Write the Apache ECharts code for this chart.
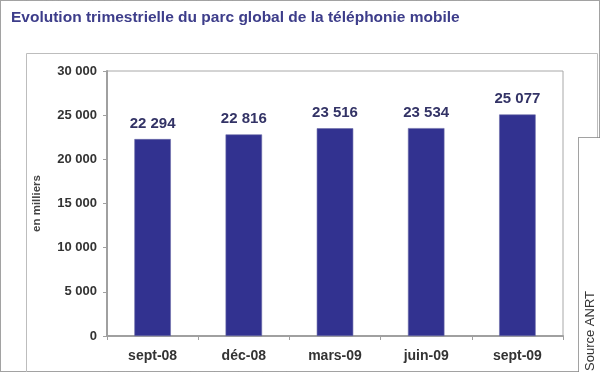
<!DOCTYPE html>
<html>
<head>
<meta charset="utf-8">
<script src="https://cdn.jsdelivr.net/npm/echarts@6/dist/echarts.min.js"></script>
<style>html,body{margin:0;padding:0;background:#fff;}#c{width:600px;height:372px;}</style>
</head>
<body>
<div id="c"></div>
<script>
var categories = ['sept-08', 'déc-08', 'mars-09', 'juin-09', 'sept-09'];
var values = [22294, 22816, 23516, 23534, 25077];
var yTicks = [0, 5000, 10000, 15000, 20000, 25000, 30000];

function fmt(v) { return String(v).replace(/\B(?=(\d{3})+(?!\d))/g, ' '); }

var chart = echarts.init(document.getElementById('c'));
chart.setOption({
  backgroundColor: '#fff',
  animation: false,
  title: {
    text: 'Evolution trimestrielle du parc global de la téléphonie mobile',
    left: 6, top: 5,
    textStyle: { fontFamily: 'Liberation Sans, Arial', fontSize: 15.5, fontWeight: 'bold', color: '#3d3d8a' }
  },
  grid: { left: 107, right: 37, top: 71, bottom: 36, show: true, borderColor: '#a8a8a8', borderWidth: 1, backgroundColor: 'transparent' },
  xAxis: {
    type: 'category', data: categories,
    axisLine: { lineStyle: { color: '#a0a0a0', width: 2 } },
    axisTick: { show: true, length: 4, lineStyle: { color: '#a0a0a0' } },
    axisLabel: { margin: 13, fontFamily: 'Liberation Sans, Arial', fontSize: 14, fontWeight: 'bold', color: '#333' }
  },
  yAxis: {
    type: 'value', min: yTicks[0], max: yTicks[yTicks.length - 1], interval: 5000,
    name: 'en milliers', nameLocation: 'middle', nameRotate: 90, nameGap: 64,
    nameTextStyle: { fontFamily: 'Liberation Sans, Arial', fontSize: 11.5, fontWeight: 'bold', color: '#444' },
    axisLine: { show: true, lineStyle: { color: '#a0a0a0', width: 2 } },
    axisTick: { show: true, length: 4, lineStyle: { color: '#a0a0a0' } },
    splitLine: { show: false },
    axisLabel: { margin: 10, formatter: function (v) { return fmt(v); }, fontFamily: 'Liberation Sans, Arial', fontSize: 13, fontWeight: 'bold', color: '#333' }
  },
  series: [{
    type: 'bar', data: values, barWidth: '40%',
    itemStyle: { color: '#323290', borderColor: '#6a6aa8', borderWidth: 0.6 },
    label: { show: true, position: 'top', distance: 8, formatter: function (p) { return fmt(p.value); },
      fontFamily: 'Liberation Sans, Arial', fontSize: 15, fontWeight: 'bold', color: '#333366' }
  }],
  graphic: [
    { type: 'rect', shape: { x: 0.5, y: 0.5, width: 599, height: 371 }, style: { fill: 'none', stroke: '#444', lineWidth: 1, lineDash: [1, 1] }, silent: true },
    { type: 'rect', shape: { x: 26.5, y: 53.5, width: 571, height: 330 }, style: { fill: 'none', stroke: '#bdbdbd', lineWidth: 1 }, silent: true },
    { type: 'rect', shape: { x: 578.5, y: 137.5, width: 22, height: 240 }, style: { fill: '#fff', stroke: '#444', lineWidth: 1, lineDash: [1, 1] }, silent: true },
    { type: 'text', x: 590, y: 331, rotation: Math.PI / 2,
      style: { text: 'Source ANRT', textAlign: 'center', textVerticalAlign: 'middle', font: '13px "Liberation Sans", Arial', fill: '#333' }, silent: true }
  ]
});
</script>
</body>
</html>
